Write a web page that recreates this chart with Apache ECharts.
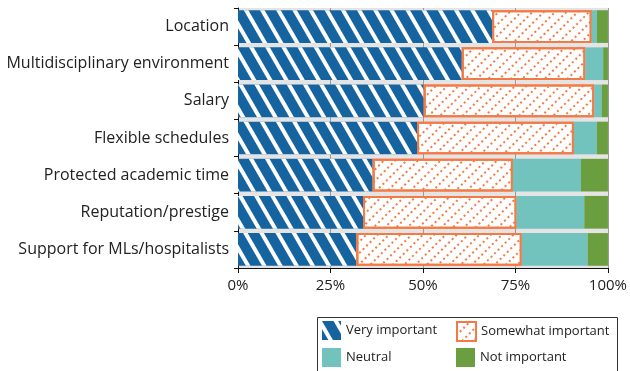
<!DOCTYPE html>
<html>
<head>
<meta charset="utf-8">
<script src="https://cdn.jsdelivr.net/npm/echarts@6/dist/echarts.min.js"></script>
<style>
  html, body { margin: 0; padding: 0; background: #fff; }
  #chart { width: 630px; height: 371px; }
</style>
</head>
<body>
<div id="chart"></div>
<script>
var categories = ["Location", "Multidisciplinary environment", "Salary", "Flexible schedules",
  "Protected academic time", "Reputation/prestige", "Support for MLs/hospitalists"];
var veryImportant = [68.7, 60.5, 50.2, 48.4, 36.4, 33.8, 32.0];
var somewhatImportant = [26.9, 33.4, 46.1, 42.4, 37.9, 41.5, 44.7];
var neutral = [1.4, 4.8, 2.0, 6.2, 18.4, 18.3, 17.8];
var notImportant = [3.0, 1.3, 1.7, 3.0, 7.3, 6.4, 5.5];
var xTicks = [0, 25, 50, 75, 100];

var chart = echarts.init(document.getElementById("chart"));
var font = "'Open Sans', sans-serif";

var blueDecal = {
  symbol: "rect", color: "#ffffff", symbolSize: 1,
  dashArrayX: [1, 0], dashArrayY: [3.5, 10], rotation: Math.PI / 3
};
var orangeDecal = {
  symbol: "rect", color: "#f47a45", symbolSize: 1,
  dashArrayX: [2, 2.5], dashArrayY: [1.5, 6], rotation: -Math.PI / 4
};

function legendAt(name, left, top) {
  return {
    data: [name], left: left, top: top, itemWidth: 19, itemHeight: 19, itemGap: 0,
    icon: "rect", selectedMode: false,
    textStyle: { fontFamily: font, fontSize: 13, color: "#222" }
  };
}

chart.setOption({
  animation: false,
  grid: { left: 238, right: 16, top: 8, bottom: 103, show: true, backgroundColor: "#e4e4e4", borderWidth: 0 },
  legend: [
    legendAt("Very important", 317, 316),
    legendAt("Somewhat important", 451, 316),
    legendAt("Neutral", 317, 343),
    legendAt("Not important", 451, 343)
  ],
  graphic: [{
    type: "rect", left: 315, top: 315, shape: { width: 300, height: 60 },
    style: { fill: "none", stroke: "#333", lineWidth: 1 }, z: 0
  }],
  xAxis: {
    type: "value", min: 0, max: 100, interval: 25,
    axisLine: { show: true, lineStyle: { color: "#111" } },
    axisTick: { show: true, length: 5, lineStyle: { color: "#111" } },
    axisLabel: {
      fontFamily: font, fontSize: 15, color: "#222", margin: 10,
      formatter: function (v) { return xTicks.indexOf(v) >= 0 ? v + "%" : ""; }
    },
    splitLine: { show: true, lineStyle: { color: "#9a9a9a", width: 1 } }
  },
  yAxis: {
    type: "category", data: categories, inverse: true,
    axisLine: { show: true, lineStyle: { color: "#111" } },
    axisTick: { show: true, length: 4, lineStyle: { color: "#111" } },
    axisLabel: { fontFamily: font, fontSize: 16, color: "#222", margin: 9, padding: [0, 0, 8, 0] }
  },
  series: [
    {
      name: "Very important", type: "bar", stack: "s", data: veryImportant, barCategoryGap: "12%",
      itemStyle: { color: "#15649f", decal: blueDecal }
    },
    {
      name: "Somewhat important", type: "bar", stack: "s", data: somewhatImportant,
      itemStyle: { color: "#ffffff", borderColor: "#f47a45", borderWidth: 2, decal: orangeDecal }
    },
    {
      name: "Neutral", type: "bar", stack: "s", data: neutral,
      itemStyle: { color: "#72c2bd" }
    },
    {
      name: "Not important", type: "bar", stack: "s", data: notImportant,
      itemStyle: { color: "#6a9e3f" }
    }
  ]
});
</script>
</body>
</html>
